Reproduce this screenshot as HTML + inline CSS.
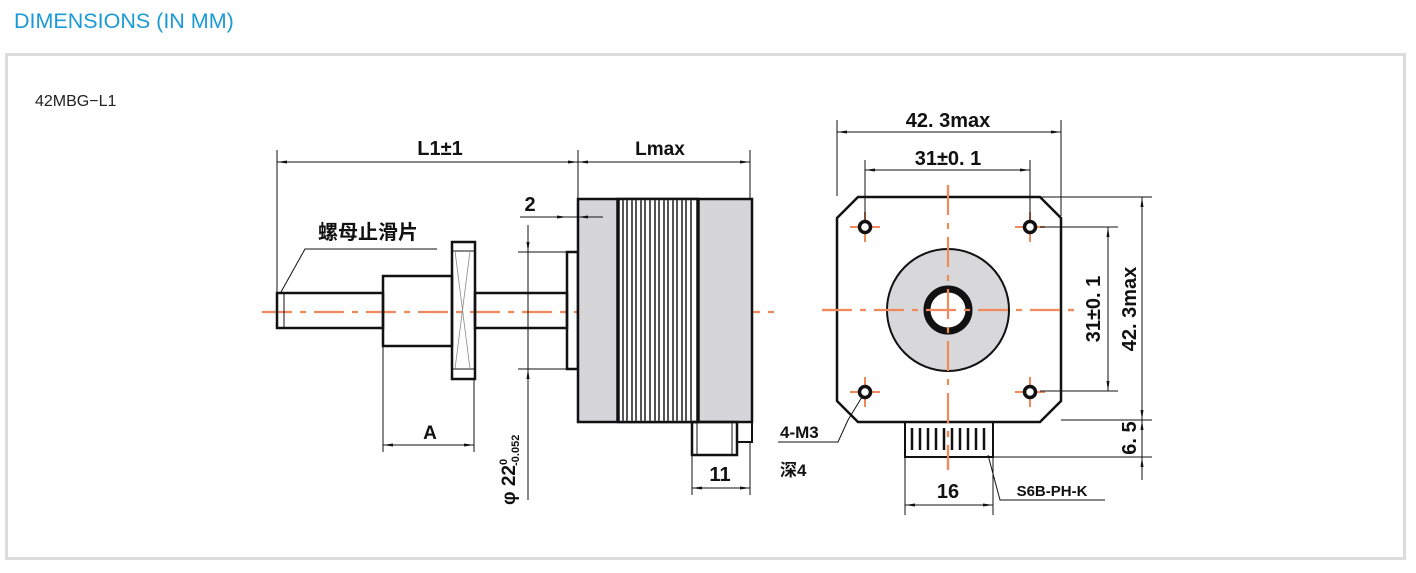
<!DOCTYPE html>
<html><head><meta charset="utf-8"><style>
html,body{margin:0;padding:0;background:#fff;width:1416px;height:573px;overflow:hidden}
svg{display:block}
</style></head><body>
<svg width="1416" height="573" viewBox="0 0 1416 573" xmlns="http://www.w3.org/2000/svg" font-family="'Liberation Sans','Noto Sans CJK SC',sans-serif">
<text x="14" y="28" font-size="21.5" fill="#1a9ad6">DIMENSIONS (IN MM)</text>
<rect x="6.5" y="54.5" width="1398" height="504" fill="none" stroke="#dcdcdc" stroke-width="3"/>
<text x="35" y="106" font-size="16" fill="#222">42MBG−L1</text>

<defs>
<marker id="a" viewBox="0 0 10 6" refX="10" refY="3" markerWidth="10" markerHeight="6" orient="auto-start-reverse" markerUnits="userSpaceOnUse"><path d="M0,1.5 L10,3 L0,4.5z" fill="#111"/></marker>
</defs>

<!-- center lines -->
<g stroke="#f08a5d" stroke-width="2.2" stroke-dasharray="30 8 6 8" fill="none">
<line x1="262" y1="312" x2="775" y2="312"/>
<line x1="822" y1="310" x2="1080" y2="310"/>
<line x1="948" y1="185" x2="948" y2="470"/>
</g>

<g stroke="#111" fill="none">
<rect x="277" y="293" width="106" height="35" stroke-width="2.5"/>
<line x1="284" y1="293" x2="284" y2="328" stroke-width="1"/>
<rect x="383" y="276" width="69" height="70" stroke-width="2.5"/>
<rect x="452" y="242" width="23" height="137" stroke-width="2.5"/>
<line x1="452" y1="251" x2="475" y2="251" stroke-width="1"/>
<line x1="452" y1="369" x2="475" y2="369" stroke-width="1"/>
<path d="M455,251 L470,369 M470,251 L455,369" stroke-width="0.8" stroke="#888"/>
<rect x="475" y="293" width="92" height="35" stroke-width="2.5"/>
<rect x="567" y="252" width="11" height="117" stroke-width="2.5"/>
<rect x="578" y="199" width="174" height="223" fill="#d6d6d8" stroke-width="2.5"/>
<rect x="618" y="199" width="80" height="223" fill="#fff" stroke-width="2.5"/>
</g>
<g stroke="#555" stroke-width="2">
<line x1="623" y1="200" x2="623" y2="421"/><line x1="627" y1="200" x2="627" y2="421"/><line x1="632" y1="200" x2="632" y2="421"/><line x1="636" y1="200" x2="636" y2="421"/><line x1="641" y1="200" x2="641" y2="421"/><line x1="645" y1="200" x2="645" y2="421"/><line x1="650" y1="200" x2="650" y2="421"/><line x1="655" y1="200" x2="655" y2="421"/><line x1="659" y1="200" x2="659" y2="421"/><line x1="664" y1="200" x2="664" y2="421"/><line x1="668" y1="200" x2="668" y2="421"/><line x1="673" y1="200" x2="673" y2="421"/><line x1="677" y1="200" x2="677" y2="421"/><line x1="682" y1="200" x2="682" y2="421"/><line x1="686" y1="200" x2="686" y2="421"/><line x1="691" y1="200" x2="691" y2="421"/>
</g>
<g stroke="#111" fill="none">
<line x1="618" y1="199" x2="618" y2="422" stroke-width="3.5"/>
<line x1="698" y1="199" x2="698" y2="422" stroke-width="3.5"/>
<rect x="692" y="422" width="45" height="33" stroke-width="2.5"/>
<line x1="697" y1="422" x2="697" y2="455" stroke-width="1"/>
<line x1="732" y1="422" x2="732" y2="455" stroke-width="1"/>
<rect x="737" y="422" width="15" height="20" stroke-width="2"/>

<g stroke-width="1">
<line x1="277" y1="150" x2="277" y2="292"/>
<line x1="578" y1="150" x2="578" y2="198"/>
<line x1="750" y1="150" x2="750" y2="198"/>
<line x1="277" y1="162" x2="578" y2="162" marker-start="url(#a)" marker-end="url(#a)"/>
<line x1="578" y1="162" x2="750" y2="162" marker-start="url(#a)" marker-end="url(#a)"/>
<line x1="520" y1="217" x2="567" y2="217"/>
<line x1="567" y1="217" x2="578" y2="217"/>
<line x1="555" y1="217" x2="567" y2="217" marker-end="url(#a)"/>
<line x1="590" y1="217" x2="578" y2="217" marker-end="url(#a)"/>
<line x1="578" y1="217" x2="603" y2="217"/>
<line x1="518" y1="252" x2="567" y2="252"/>
<line x1="518" y1="369" x2="567" y2="369"/>
<line x1="528" y1="225" x2="528" y2="500"/>
<line x1="528" y1="238" x2="528" y2="252" marker-end="url(#a)"/>
<line x1="528" y1="383" x2="528" y2="369" marker-end="url(#a)"/>
<line x1="383" y1="347" x2="383" y2="452"/>
<line x1="474" y1="380" x2="474" y2="452"/>
<line x1="383" y1="445" x2="474" y2="445" marker-start="url(#a)" marker-end="url(#a)"/>
<line x1="692" y1="456" x2="692" y2="495"/>
<line x1="750" y1="443" x2="750" y2="495"/>
<line x1="692" y1="488" x2="750" y2="488" marker-start="url(#a)" marker-end="url(#a)"/>
<polyline points="437,249 305,249 281,292" />
</g>

<path d="M858,197 L1040,197 L1061,218 L1061,401 L1040,422 L858,422 L837,401 L837,218 Z" stroke-width="2.5" fill="#fff"/>
<circle cx="948" cy="310" r="61" fill="#d8d8da" stroke-width="2"/>
<circle cx="948" cy="310" r="21" fill="#fff" stroke-width="7"/>
<rect x="905" y="422" width="88" height="35" stroke-width="2"/>
</g>
<g stroke="#f08a5d" stroke-width="2.2" stroke-dasharray="30 8 6 8">
<line x1="948" y1="185" x2="948" y2="470"/>
<line x1="822" y1="310" x2="1080" y2="310"/>
</g>
<g stroke="#111" stroke-width="2.5">
<line x1="912" y1="428" x2="912" y2="450"/><line x1="920" y1="428" x2="920" y2="450"/><line x1="928" y1="428" x2="928" y2="450"/><line x1="936" y1="428" x2="936" y2="450"/><line x1="944" y1="428" x2="944" y2="450"/><line x1="952" y1="428" x2="952" y2="450"/><line x1="960" y1="428" x2="960" y2="450"/><line x1="968" y1="428" x2="968" y2="450"/><line x1="976" y1="428" x2="976" y2="450"/><line x1="984" y1="428" x2="984" y2="450"/>
</g>
<g stroke="#f08a5d" stroke-width="2">
<line x1="850" y1="227" x2="880" y2="227"/><line x1="865" y1="212" x2="865" y2="242"/>
<line x1="1015" y1="227" x2="1045" y2="227"/><line x1="1030" y1="212" x2="1030" y2="242"/>
<line x1="850" y1="392" x2="880" y2="392"/><line x1="865" y1="377" x2="865" y2="407"/>
<line x1="1015" y1="392" x2="1045" y2="392"/><line x1="1030" y1="377" x2="1030" y2="407"/>
</g>
<g stroke="#111" stroke-width="3.5" fill="#fff">
<circle cx="865" cy="227" r="5.5"/><circle cx="1030" cy="227" r="5.5"/>
<circle cx="865" cy="392" r="5.5"/><circle cx="1030" cy="392" r="5.5"/>
</g>
<g stroke="#111" stroke-width="1" fill="none">
<line x1="837" y1="120" x2="837" y2="196"/>
<line x1="1061" y1="120" x2="1061" y2="216"/>
<line x1="837" y1="132" x2="1061" y2="132" marker-start="url(#a)" marker-end="url(#a)"/>
<line x1="865" y1="160" x2="865" y2="220"/>
<line x1="1030" y1="160" x2="1030" y2="220"/>
<line x1="865" y1="170" x2="1030" y2="170" marker-start="url(#a)" marker-end="url(#a)"/>
<line x1="1040" y1="197" x2="1152" y2="197"/>
<line x1="1040" y1="227" x2="1118" y2="227"/>
<line x1="1040" y1="391" x2="1118" y2="391"/>
<line x1="1061" y1="420" x2="1152" y2="420"/>
<line x1="990" y1="457" x2="1152" y2="457"/>
<line x1="1108" y1="227" x2="1108" y2="391" marker-start="url(#a)" marker-end="url(#a)"/>
<line x1="1142" y1="197" x2="1142" y2="420" marker-start="url(#a)" marker-end="url(#a)"/>
<line x1="1142" y1="420" x2="1142" y2="480"/>
<line x1="1142" y1="435" x2="1142" y2="420" marker-end="url(#a)"/>
<line x1="1142" y1="470" x2="1142" y2="457" marker-end="url(#a)"/>
<line x1="905" y1="458" x2="905" y2="515"/>
<line x1="993" y1="458" x2="993" y2="515"/>
<line x1="905" y1="505" x2="993" y2="505" marker-start="url(#a)" marker-end="url(#a)"/>
<polyline points="988,455 1000,500 1105,500"/>
<polyline points="862,397 848,420 838,442 778,442"/>
</g>

<g font-weight="bold" fill="#111" font-size="20">
<text x="440" y="155" text-anchor="middle">L1±1</text>
<text x="660" y="155" text-anchor="middle" font-size="19">Lmax</text>
<text x="530" y="211" text-anchor="middle">2</text>
<text x="368" y="239" text-anchor="middle" font-size="20">螺母止滑片</text>
<text x="430" y="439" text-anchor="middle" font-size="19">A</text>
<text x="720" y="481" text-anchor="middle">11</text>
<text x="515" y="505" font-size="19" transform="rotate(-90 515 505)">φ 22<tspan font-size="11" dy="-8">0</tspan><tspan font-size="11" dx="-7" dy="12">-0.052</tspan></text>
<text x="948" y="127" text-anchor="middle">42. 3max</text>
<text x="948" y="165" text-anchor="middle">31±0. 1</text>
<text x="1100" y="309" text-anchor="middle" transform="rotate(-90 1100 309)">31±0. 1</text>
<text x="1136" y="309" text-anchor="middle" transform="rotate(-90 1136 309)">42. 3max</text>
<text x="1136" y="438" text-anchor="middle" transform="rotate(-90 1136 438)">6. 5</text>
<text x="948" y="498" text-anchor="middle">16</text>
<text x="1052" y="496" text-anchor="middle" font-size="15">S6B-PH-K</text>
<text x="780" y="438" font-size="17">4-M3</text>
<text x="780" y="476" font-size="17">深4</text>
</g>
</svg>
</body></html>
